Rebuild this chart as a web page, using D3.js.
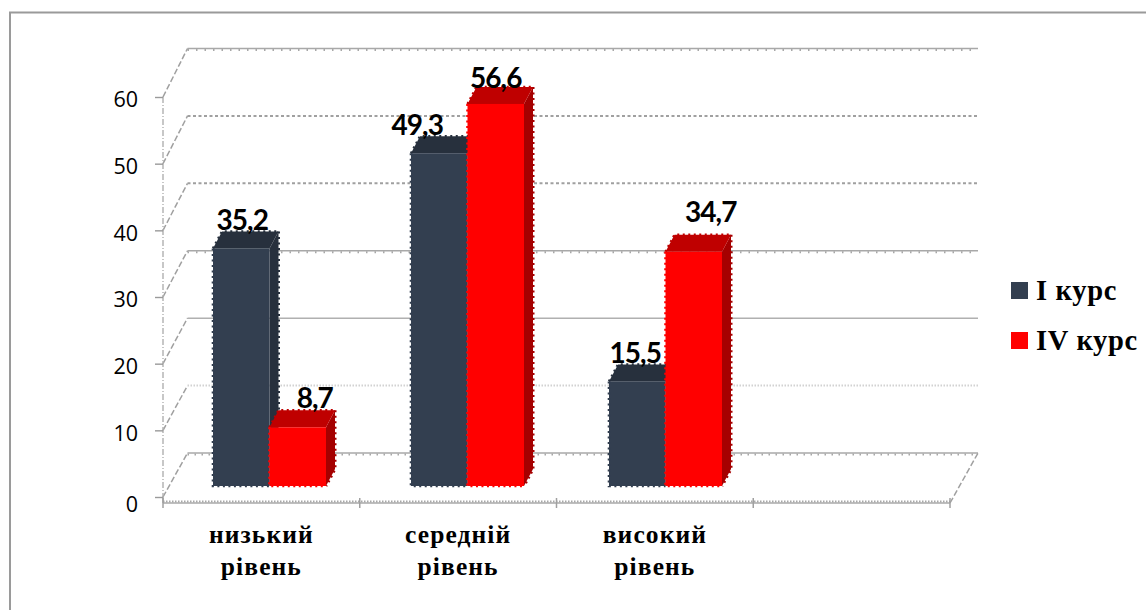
<!DOCTYPE html>
<html>
<head>
<meta charset="utf-8">
<script src="https://cdn.jsdelivr.net/npm/d3@7/dist/d3.min.js"></script>
<style>
html,body{margin:0;padding:0;background:#fff;overflow:hidden}
svg{display:block}
.sans{font-family:Lato,"Open Sans",sans-serif}
.serif{font-family:"Liberation Serif",serif;font-weight:bold}
</style>
</head>
<body>
<svg id="c" width="1146" height="610"></svg>
<script>
// data
const categories = [["низький","рівень"],["середній","рівень"],["високий","рівень"],["",""]];
const seriesNames = ["I курс","IV курс"];
const course1 = [35.2,49.3,15.5];
const course4 = [8.7,56.6,34.7];
const yTicks = [0,10,20,30,40,50,60];

const colors = [
  {front:"#333F50",top:"#27303D",side:"#27303D"},
  {front:"#FF0000",top:"#BF0000",side:"#A50000"}
];
const fmt = v => String(v).replace(".",",");
const svg = d3.select("#c");

// outer frame
svg.append("path").attr("d","M10,610V12.5H1146").attr("fill","none").attr("stroke","#9a9a9a").attr("stroke-width",2);

// projected scales
const yFront = d3.scaleLinear().domain([0,60]).range([497,97]);
const yBack  = d3.scaleLinear().domain([0,60]).range([453,48.5]);
const yBar   = d3.scaleLinear().domain([0,60]).range([486,81]);
const xAxisBand = d3.scaleBand().domain(d3.range(categories.length)).range([163,950]);
const xBarBand  = d3.scaleBand().domain(d3.range(categories.length)).range([170.5,962.5]);
const barW = 56.5, depthX = 9, depthY = 17;
const backL = 187.5, backR = 978;

// gridlines on back wall
const gridStyle = {
  0:{c:"#a8a8a8",d:"1.5 5.5",o:1},10:{c:"#d2d2d2",d:"1.5 1.5",o:0},20:{c:"#b0b0b0",d:null,o:0},
  30:{c:"#a8a8a8",d:"1.5 7",o:1},40:{c:"#a0a0a0",d:"3 2.5",o:0},50:{c:"#a0a0a0",d:"3 2.5",o:0},60:{c:"#a8a8a8",d:"1.5 7",o:1}
};
const grid = svg.append("g");
yTicks.forEach(t=>{
  const s = gridStyle[t], y = yBack(t);
  if(s.o){
    grid.append("line").attr("x1",backL).attr("x2",backR).attr("y1",y).attr("y2",y).attr("stroke",s.c).attr("stroke-width",1.4);
    grid.append("line").attr("x1",backL).attr("x2",backR).attr("y1",y+1.5).attr("y2",y+1.5).attr("stroke",s.c).attr("stroke-width",2.2).attr("stroke-dasharray",s.d);
  } else {
    grid.append("line").attr("x1",backL).attr("x2",backR).attr("y1",y).attr("y2",y).attr("stroke",s.c).attr("stroke-width",t===10?2:(t===20?1.5:2)).attr("stroke-dasharray",s.d);
  }
  // left wall diagonal
  grid.append("line").attr("x1",163).attr("y1",yFront(t)).attr("x2",backL).attr("y2",y)
    .attr("stroke","#a0a0a0").attr("stroke-width",1.5).attr("stroke-dasharray","6 2.5");
});
// left wall front vertical
grid.append("line").attr("x1",163).attr("x2",163).attr("y1",yFront(60)).attr("y2",yFront(0))
  .attr("stroke","#b0b0b0").attr("stroke-width",1.4).attr("stroke-dasharray","6 2 1 2");
// floor: front edge and right edge
const floorY = 503;
grid.append("line").attr("x1",163).attr("x2",950).attr("y1",floorY).attr("y2",floorY).attr("stroke","#a8a8a8").attr("stroke-width",1.4);
grid.append("line").attr("x1",163).attr("x2",950).attr("y1",floorY-1.5).attr("y2",floorY-1.5).attr("stroke","#a8a8a8").attr("stroke-width",2).attr("stroke-dasharray","1.5 1.5");
grid.append("line").attr("x1",950).attr("y1",floorY).attr("x2",backR).attr("y2",yBack(0))
  .attr("stroke","#a0a0a0").attr("stroke-width",1.5).attr("stroke-dasharray","6 2.5");
grid.append("line").attr("x1",163).attr("y1",497).attr("x2",163).attr("y2",floorY).attr("stroke","#a0a0a0").attr("stroke-width",1.4);
// category ticks
d3.range(categories.length+1).forEach(i=>{
  const x = 163 + i*xAxisBand.step();
  grid.append("line").attr("x1",x).attr("x2",x).attr("y1",498).attr("y2",508).attr("stroke","#a0a0a0").attr("stroke-width",1.5);
});

// y axis via d3
const yAxis = svg.append("g").attr("transform","translate(163,0)")
  .call(d3.axisLeft(yFront).tickValues(yTicks).tickSize(8).tickPadding(17));
yAxis.select(".domain").remove();
yAxis.selectAll("line").attr("stroke","#9a9a9a").attr("stroke-width",1.4);
yAxis.selectAll("text").attr("font-size",21.5).attr("fill","#000")
  .attr("font-family","'Open Sans'").attr("dy",d=>d===0?"0.66em":"0.45em");

// category labels
categories.forEach((lines,i)=>{
  const cx = xAxisBand(i)+xAxisBand.bandwidth()/2;
  lines.forEach((ln,j)=>{
    svg.append("text").attr("class","serif").attr("x",cx).attr("y",543+j*32)
      .attr("text-anchor","middle").attr("font-size",25.5).attr("letter-spacing",1.1).attr("fill","#000").text(ln);
  });
});

// bars
function bar(g,x,v,col){
  const y = yBar(v), b = yBar(0);
  const pts = a=>a.map(p=>p.join(",")).join(" ");
  g.append("polygon").attr("points",pts([[x+barW,y],[x+barW+depthX,y-depthY],[x+barW+depthX,b-depthY],[x+barW,b]]))
    .attr("fill",col.side);
  g.append("path").attr("d",`M${x+barW+depthX},${y-depthY}V${b-depthY}L${x+barW},${b}`).attr("fill","none")
    .attr("stroke",col.side).attr("stroke-width",3).attr("stroke-dasharray","2 3.5");
  g.append("polygon").attr("points",pts([[x,y],[x+depthX,y-depthY],[x+barW+depthX,y-depthY],[x+barW,y]]))
    .attr("fill",col.top);
  g.append("path").attr("d",`M${x},${y}L${x+depthX},${y-depthY}H${x+barW+depthX}`).attr("fill","none")
    .attr("stroke",col.top).attr("stroke-width",2.4).attr("stroke-dasharray","2 3.5");
  g.append("rect").attr("x",x).attr("y",y).attr("width",barW).attr("height",b-y)
    .attr("fill",col.front);
  g.append("path").attr("d",`M${x},${y}V${b}H${x+barW}`).attr("fill","none")
    .attr("stroke",col.front).attr("stroke-width",2.6).attr("stroke-dasharray","2 3.5");
}
const bars = svg.append("g");
const xOf = (i,s)=>xBarBand(i)+xBarBand.step()/2-barW+s*barW;
[0,1,2].forEach(i=>{
  const g = bars.append("g");
  bar(g,xOf(i,0),course1[i],colors[0]);
  bar(g,xOf(i,1),course4[i],colors[1]);
});

// value labels (placement nudges relative to bar)
const nudge1 = [[1,-1],[-22,-1],[-2,-1]];
const nudge4 = [[17,-2],[0,1],[17,-13]];
const labels = svg.append("g");
function label(i,s,v,n){
  labels.append("text").attr("class","sans").attr("text-anchor","middle")
    .attr("x",xOf(i,s)+barW/2+n[0]).attr("y",yBar(v)-depthY+n[1])
    .attr("font-size",28).attr("font-weight",700).attr("letter-spacing",-1).attr("fill","#000").text(fmt(v));
}
[0,1,2].forEach(i=>{
  label(i,0,course1[i],nudge1[i]);
  label(i,1,course4[i],nudge4[i]);
});

// legend
seriesNames.forEach((name,i)=>{
  const top = 282+i*50;
  svg.append("rect").attr("x",1011).attr("y",top).attr("width",17).attr("height",17).attr("fill",colors[i].front);
  svg.append("text").attr("class","serif").attr("x",1036).attr("y",top+17.5)
    .attr("font-size",28.5).attr("letter-spacing",0.7).attr("fill","#000").text(name);
});
</script>
</body>
</html>
